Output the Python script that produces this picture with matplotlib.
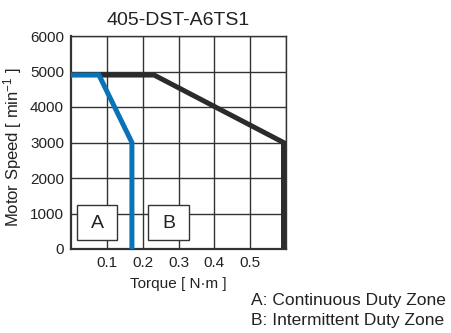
import matplotlib
matplotlib.use('Agg')
import matplotlib.pyplot as plt
from matplotlib.patches import Rectangle

plt.rcParams['font.family'] = ['Liberation Sans', 'DejaVu Sans']
plt.rcParams['mathtext.fontset'] = 'custom'
plt.rcParams['mathtext.rm'] = 'Liberation Sans'
plt.rcParams['mathtext.it'] = 'Liberation Sans'

title = '405-DST-A6TS1'

# continuous duty curve (blue)
cont_torque = [0.0, 0.078, 0.17, 0.17]
cont_speed = [4900, 4900, 3000, 0]

# intermittent duty curve (black)
peak_torque = [0.08, 0.232, 0.593, 0.593]
peak_speed = [4900, 4900, 3000, 0]

x_ticks = [0.1, 0.2, 0.3, 0.4, 0.5]
y_ticks = [0, 1000, 2000, 3000, 4000, 5000, 6000]

zone_labels = ['A', 'B']
zone_x = [0.016, 0.216]     # left edge of the label boxes
zone_w = 0.113
zone_y = (250, 1240)

legend_lines = ['A: Continuous Duty Zone', 'B: Intermittent Duty Zone']

fig = plt.figure(figsize=(4.51, 3.33), dpi=100)
ax = fig.add_axes([71/451, 1 - 249/333, 215/451, 213/333])

ax.set_xlim(0, 0.6)
ax.set_ylim(0, 6000)
ax.set_xticks([0.1, 0.2, 0.3, 0.4, 0.5, 0.6])
ax.set_xticklabels([str(t) for t in x_ticks] + [''])
ax.set_yticks(y_ticks)
ax.tick_params(length=0, labelsize=11, colors='#222222', pad=5)
ax.grid(True, color='#333333', linewidth=1.0)
ax.set_axisbelow(True)
for s in ax.spines.values():
    s.set_color('#333333')
    s.set_linewidth(1.0)
ax.spines['left'].set_linewidth(1.6)
ax.spines['bottom'].set_linewidth(1.6)

for lab, x0 in zip(zone_labels, zone_x):
    ax.add_patch(Rectangle((x0, zone_y[0]), zone_w, zone_y[1] - zone_y[0],
                           facecolor='white', edgecolor='#333333', linewidth=1.0, zorder=3))
    ax.text(x0 + zone_w / 2, (zone_y[0] + zone_y[1]) / 2 - 40, lab,
            ha='center', va='center', fontsize=14, color='#222222', zorder=4)

ax.plot(peak_torque, peak_speed, color='#2b2b2e', linewidth=3.6,
        solid_joinstyle='miter', solid_capstyle='butt', zorder=5, clip_on=False)
ax.plot(cont_torque, cont_speed, color='#0a72b6', linewidth=3.6,
        solid_joinstyle='miter', solid_capstyle='butt', zorder=6, clip_on=False)

ax.set_xlabel('Torque [ N·m ]', fontsize=11, color='#222222', labelpad=5)
ax.set_ylabel('Motor Speed [ min$^{-1}$ ]', fontsize=12, color='#222222', va='center')
ax.yaxis.set_label_coords(-58/215, 0.48)
ax.set_title(title, fontsize=14, color='#222222', pad=8)

fig.text(251/451, 1 - 300/333, legend_lines[0], fontsize=12.5, color='#222222', va='center')
fig.text(251/451, 1 - 321/333, legend_lines[1], fontsize=12.5, color='#222222', va='center')

fig.savefig('out.png', dpi=100)
